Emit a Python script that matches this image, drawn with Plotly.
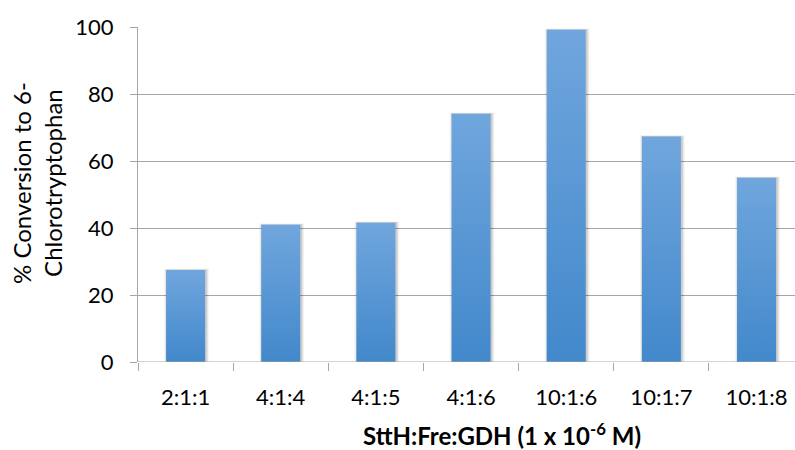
import plotly.graph_objects as go

# Enzyme ratio (SttH:Fre:GDH) and the measured conversion for each
ratios = ["2:1:1", "4:1:4", "4:1:5", "4:1:6", "10:1:6", "10:1:7", "10:1:8"]
conversion = [27.5, 41.0, 41.6, 74.1, 99.2, 67.3, 55.0]
y_ticks = [0, 20, 40, 60, 80, 100]

FONT = "Lato, sans-serif"
GRID = "#a6a6a6"
BAR_TOP = "rgb(112,166,221)"
BAR_BOTTOM = "rgb(66,136,203)"
HALF = 0.205  # half bar width in category units

fig = go.Figure()

for i, (name, val) in enumerate(zip(ratios, conversion)):
    xs = [i - HALF, i + HALF, i + HALF, i - HALF, i - HALF]
    ys = [0, 0, val, val, 0]
    # soft drop shadow around each column
    for grow, alpha in [(0.03, 0.05), (0.018, 0.07), (0.008, 0.09)]:
        sx = [i - HALF - grow + 0.01, i + HALF + grow + 0.01,
              i + HALF + grow + 0.01, i - HALF - grow + 0.01, i - HALF - grow + 0.01]
        top = val + grow * 12
        sy = [-0.9, -0.9, top, top, -0.9]
        fig.add_trace(go.Scatter(
            x=sx, y=sy, mode="lines", fill="toself",
            fillcolor=f"rgba(0,0,0,{alpha})", line=dict(width=0),
            hoverinfo="skip", showlegend=False,
        ))
    # the column itself, shaded light at the top to darker at the base
    fig.add_trace(go.Scatter(
        x=xs, y=ys, mode="lines", fill="toself",
        fillgradient=dict(
            type="vertical",
            colorscale=[[0, BAR_BOTTOM], [1, BAR_TOP]],
        ),
        line=dict(width=0),
        name=name,
        hovertemplate=f"{name}: {val}%<extra></extra>",
        showlegend=False,
    ))

fig.update_layout(
    width=795,
    height=450,
    margin=dict(l=138, r=0, t=27, b=88),
    paper_bgcolor="white",
    plot_bgcolor="white",
    font=dict(family=FONT, size=22, color="#000000"),
    xaxis=dict(
        range=[-0.5, 6.404],
        tickmode="array",
        tickvals=list(range(len(ratios))),
        ticktext=ratios,
        ticks="",
        showgrid=False,
        zeroline=False,
        showline=False,
        ticklabelstandoff=20,
        tickfont=dict(family=FONT, size=22),
        minor=dict(
            tickmode="linear", tick0=-0.5, dtick=1,
            ticks="outside", ticklen=8, tickcolor=GRID, tickwidth=1,
            showgrid=False,
        ),
        fixedrange=True,
    ),
    yaxis=dict(
        range=[0, 100],
        tickmode="array",
        tickvals=y_ticks,
        ticks="outside",
        ticklen=7,
        tickcolor=GRID,
        showgrid=True,
        gridcolor=GRID,
        gridwidth=1,
        zeroline=False,
        showline=True,
        linecolor=GRID,
        linewidth=1,
        ticklabelstandoff=12,
        tickfont=dict(family=FONT, size=22),
        fixedrange=True,
    ),
    annotations=[
        dict(
            text="<b>SttH:Fre:GDH (1 x 10<sup>-6</sup> M)</b>",
            xref="paper", yref="paper", x=0.554, y=-0.216,
            xanchor="center", yanchor="middle", showarrow=False,
            font=dict(family=FONT, size=24),
        ),
        dict(
            text="% Conversion to 6-<br>Chlorotryptophan",
            xref="paper", yref="paper", x=-0.154, y=0.534,
            xanchor="center", yanchor="middle", showarrow=False,
            textangle=-90,
            font=dict(family=FONT, size=24),
        ),
    ],
)

# baseline along the value axis floor
fig.add_shape(type="line", xref="paper", yref="y", x0=0, x1=1, y0=0, y1=0,
              line=dict(color=GRID, width=1), layer="above")

fig.write_html("out.html")
